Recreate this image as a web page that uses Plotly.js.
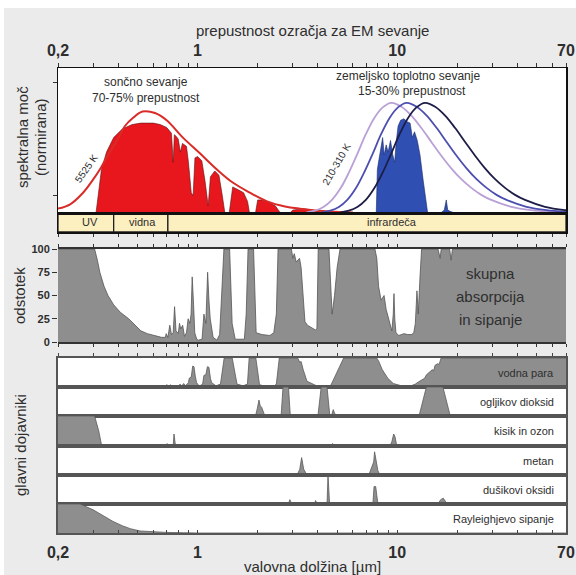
<!DOCTYPE html>
<html><head><meta charset="utf-8">
<script src="https://cdn.plot.ly/plotly-3.0.1.min.js"></script>
<style>html,body{margin:0;padding:0;background:#fff}#chart{width:576px;height:575px}</style>
</head><body><div id="chart"></div>
<script>
// ---------- axis ticks ----------
const tickVals = [0.2,0.3,0.4,0.5,0.6,0.7,0.8,0.9,1,2,3,4,5,6,7,8,9,10,20,30,40,50,60,70];
const tickText = ['0,2','','','','','','','','1','','','','','','','','','10','','','','','','70'];
const absTicks = [0,25,50,75,100];

// ---------- spectral bands ----------
const bandEdges = [0.2,0.38,0.71,70];
const bandLabels = ['UV','vidna','infrardeča'];

// ---------- top panel: spectral power (normalised) ----------
const sunEnvWl  = [0.2,0.23,0.267,0.296,0.324,0.356,0.395,0.433,0.474,0.53,0.612,0.70,0.845,1.03,1.25,1.5,1.83,2.23,2.74,3.26,4.6,6];
const sunEnvVal = [0.03,0.06,0.14,0.22,0.30,0.40,0.50,0.60,0.655,0.70,0.69,0.64,0.52,0.41,0.30,0.21,0.14,0.08,0.045,0.03,0.01,0.003];

const sunFillWl  = [0.31,0.32,0.33,0.35,0.38,0.42,0.47,0.52,0.60,0.65,0.68,0.70,0.72,0.74,0.755,0.765,0.78,0.80,0.82,0.84,0.88,0.90,0.93,0.95,0.97,1.0,1.05,1.09,1.13,1.16,1.22,1.28,1.33,1.37,1.44,1.50,1.6,1.7,1.78,1.82,1.95,2.0,2.1,2.3,2.45,2.55,2.6,2.9,3.0,3.4,3.8,4.1,4.2];
const sunFillVal = [0,0.15,0.30,0.42,0.52,0.58,0.61,0.62,0.62,0.61,0.60,0.59,0.57,0.55,0.35,0.54,0.53,0.51,0.42,0.48,0.46,0.35,0.14,0.12,0.38,0.39,0.36,0.22,0.05,0.25,0.29,0.26,0.12,0,0,0.18,0.16,0.14,0.08,0,0,0.09,0.09,0.07,0.05,0.02,0,0,0.02,0.03,0.02,0.01,0];

const earthFillWl  = [7.85,7.95,8.1,8.3,8.45,8.6,8.8,9.0,9.25,9.5,9.7,9.9,10.1,10.4,10.8,11.2,11.6,11.9,12.2,12.6,13.0,13.5,14.0,14.2,16.5,17.2,17.6,17.9,18.5,19.5];
const earthFillVal = [0,0.30,0.37,0.47,0.52,0.40,0.47,0.42,0.50,0.40,0.35,0.50,0.60,0.64,0.65,0.63,0.62,0.52,0.56,0.50,0.40,0.22,0.04,0,0,0.02,0.09,0.02,0.01,0];

const earth310Wl = [3.51,3.88,4.27,4.71,5.20,5.73,6.32,6.97,7.69,8.48,9.35,10.49,11.77,13.21,14.82,16.62,18.65,20.93,23.49,26.35,29.56,37.22,46.86,59.0,74.3];
const earth260Wl = [4.19,4.62,5.10,5.62,6.20,6.83,7.54,8.31,9.17,10.11,11.15,12.51,14.04,15.76,17.67,19.82,22.24,24.96,28.01,31.42,35.26,44.39,55.88,70.36,88.6];
const earth210Wl = [5.19,5.72,6.31,6.96,7.67,8.46,9.33,10.29,11.35,12.51,13.8,15.48,17.37,19.50,21.87,24.54,27.53,30.90,34.67,38.89,43.64,54.94,69.17,87.1,109.6];
const earthCurveVal = [0.005,0.016,0.041,0.09,0.17,0.28,0.41,0.545,0.657,0.73,0.76,0.733,0.672,0.586,0.49,0.395,0.308,0.233,0.173,0.125,0.09,0.043,0.02,0.009,0.004];

// ---------- total absorption and scattering (%) ----------
const absWl  = [0.2,0.305,0.315,0.324,0.34,0.356,0.38,0.41,0.452,0.49,0.52,0.56,0.61,0.66,0.69,0.696,0.71,0.726,0.74,0.755,0.767,0.78,0.80,0.812,0.824,0.842,0.86,0.88,0.897,0.915,0.928,0.94,0.955,0.968,0.99,1.01,1.053,1.076,1.10,1.123,1.14,1.157,1.196,1.25,1.29,1.33,1.355,1.447,1.47,1.49,1.543,1.715,1.752,1.79,1.907,1.94,1.965,2.1,2.3,2.408,2.48,2.53,2.95,3.0,3.05,3.12,3.24,3.3,3.40,3.45,3.55,3.7,3.89,3.96,4.02,4.55,4.62,4.72,4.85,5.0,5.17,7.73,7.9,8.06,8.3,8.59,8.8,9.16,9.4,9.55,9.63,9.72,9.85,10.18,10.8,11.3,11.81,12.1,12.32,12.55,12.74,13.0,13.24,16.0,16.4,16.6,18.3,18.6,18.9,70];
const absVal = [100,100,88,75,60,50,40,32,25,17,12,9,7,5,5,9,5,18,8,10,38,12,9,20,14,18,6,10,25,20,30,70,40,10,3,2,3,30,20,75,45,25,5,2,8,60,100,100,60,20,3,3,30,100,100,40,10,8,7,10,30,100,100,90,95,86,90,80,35,22,18,16,13,14,100,100,70,30,50,80,100,100,90,60,45,50,35,20,12,30,52,25,10,7,9,8,8,10,20,55,30,70,100,100,90,100,100,88,100,100];

// ---------- main absorbers (relative) ----------
const h2oWl  = [0.2,0.69,0.70,0.72,0.735,0.75,0.80,0.817,0.83,0.852,0.87,0.9,0.908,0.93,0.945,0.96,0.975,0.989,1.02,1.06,1.076,1.1,1.12,1.14,1.16,1.176,1.237,1.302,1.359,1.491,1.576,1.69,1.777,1.813,1.958,2.043,2.166,2.408,2.48,2.566,3.172,3.25,3.3,3.38,3.53,3.68,3.92,4.1,4.55,4.65,5.0,5.39,7.89,8.06,8.41,8.97,9.55,10.18,10.4,11.81,12.32,12.8,13.34,13.7,14.0,14.52,15.0,15.2,15.47,15.9,16.2,16.58,70];
const h2oVal = [0,0,0.08,0.02,0.08,0.01,0.02,0.1,0.03,0.12,0.04,0.15,0.3,0.35,0.72,0.7,0.35,0.15,0.03,0.1,0.4,0.42,0.7,0.68,0.3,0.15,0.04,0.1,1,1,0.1,0.04,0.1,1,1,0.08,0.03,0.03,0.1,1,1,0.85,0.88,0.6,0.2,0.15,0.05,0.03,0.03,0.06,0.5,1,1,0.9,0.6,0.3,0.12,0.06,0.05,0.05,0.1,0.18,0.25,0.3,0.42,0.5,0.6,0.55,0.75,0.8,0.78,1,1];
const co2Wl  = [0.2,1.38,1.417,1.45,1.58,1.609,1.64,1.95,1.99,2.03,2.06,2.094,2.153,2.2,2.62,2.678,2.853,2.914,4.005,4.16,4.45,4.59,4.7,4.78,4.85,4.95,5.28,5.4,9.2,9.35,9.5,10.3,10.39,10.5,12.85,13.99,16.93,18.43,70];
const co2Val = [0,0,0.04,0,0,0.04,0,0,0.25,0.55,0.35,0.3,0.08,0,0,1,1,0,0,1,1,0.05,0.05,0.22,0.1,0.02,0.04,0,0,0.04,0,0,0.04,0,0,1,1,0,0];
const o3Wl  = [0.2,0.305,0.32,0.33,0.34,0.69,0.704,0.72,0.755,0.762,0.772,0.78,1.25,1.27,1.29,4.6,4.75,4.85,9.2,9.4,9.6,9.75,9.9,10.1,13.5,14.5,15.5,16.5,70];
const o3Val = [1,1,0.5,0.05,0,0,0.08,0,0,0.4,0.1,0,0,0.05,0,0,0.08,0,0,0.15,0.4,0.3,0.08,0,0,0.05,0.03,0,0];
const ch4Wl  = [0.2,2.25,2.36,2.45,3.15,3.25,3.32,3.4,3.5,3.6,7.2,7.45,7.62,7.7,7.85,8.0,8.2,70];
const ch4Val = [0,0,0.06,0,0,0.2,0.6,0.2,0.05,0,0,0.3,0.45,0.8,0.4,0.15,0,0];
const n2oWl  = [0.2,2.85,2.9,2.96,3.85,3.9,3.97,4.45,4.5,4.58,4.65,7.55,7.65,7.8,7.9,8.0,16.0,16.5,17,17.6,18,70];
const n2oVal = [0,0,0.15,0,0,0.12,0,0,1.0,0.05,0,0,0.6,0.6,0.3,0,0,0.15,0.2,0.05,0,0];
const rayWl  = [0.2,0.258,0.3,0.34,0.377,0.42,0.46,0.515,0.6,0.7,0.85,1.0,70];
const rayVal = [1,1,0.8,0.58,0.40,0.25,0.15,0.07,0.035,0.02,0.01,0,0];

const absorberLabels = ['vodna para','ogljikov dioksid','kisik in ozon','metan','dušikovi oksidi','Rayleighjevo sipanje'];

// ---------- layout helpers ----------
const FONT = 'Liberation Sans, Arial, Helvetica, sans-serif';
const TXT = '#2e2e2e';
const W = 576, H = 575, L = 58, R = 10, T = 68, B = 42;
const pw = W - L - R, ph = H - T - B;
const px = v => (v - L) / pw;
const py = v => (H - B - v) / ph;
const logR = [Math.log10(0.2), Math.log10(70)];

const panelTopPx = [358,387,416,446,475,504];
const panelBotPx = [387,416,446,475,504,533];

function xa(anchor, extra) {
  return Object.assign({type:'log', range:logR, domain:[0,1], anchor:anchor,
    tickvals:tickVals, ticktext:tickText, showgrid:false, zeroline:false,
    showticklabels:false, ticks:'', fixedrange:true, automargin:false}, extra);
}
function ya(anchor, dom, extra) {
  return Object.assign({domain:dom, anchor:anchor, range:[0,1], showgrid:false,
    zeroline:false, showticklabels:false, ticks:'', fixedrange:true, automargin:false}, extra);
}

const traces = [];
// top panel
traces.push({x:sunFillWl, y:sunFillVal, xaxis:'x', yaxis:'y', mode:'lines', fill:'tozeroy',
  fillcolor:'#e8161d', line:{color:'#5a1414', width:0.6}, hoverinfo:'skip'});
traces.push({x:sunEnvWl, y:sunEnvVal, xaxis:'x', yaxis:'y', mode:'lines', line:{color:'#d92b27', width:2, shape:'spline'}, hoverinfo:'skip'});
traces.push({x:earthFillWl, y:earthFillVal, xaxis:'x', yaxis:'y', mode:'lines', fill:'tozeroy',
  fillcolor:'#2f4fb2', line:{color:'#1b2a6a', width:0.6}, hoverinfo:'skip'});
traces.push({x:earth310Wl, y:earthCurveVal, xaxis:'x', yaxis:'y', mode:'lines', line:{color:'#b9a0d6', width:1.8, shape:'spline'}, hoverinfo:'skip'});
traces.push({x:earth260Wl, y:earthCurveVal, xaxis:'x', yaxis:'y', mode:'lines', line:{color:'#4d4fb0', width:1.8, shape:'spline'}, hoverinfo:'skip'});
traces.push({x:earth210Wl, y:earthCurveVal, xaxis:'x', yaxis:'y', mode:'lines', line:{color:'#1d1d48', width:1.8, shape:'spline'}, hoverinfo:'skip'});
// band (empty subplot)
traces.push({x:[1], y:[0.5], xaxis:'x2', yaxis:'y2', mode:'markers', marker:{opacity:0}, hoverinfo:'skip'});
// absorption
traces.push({x:absWl, y:absVal, xaxis:'x3', yaxis:'y3', mode:'lines', fill:'tozeroy',
  fillcolor:'#8e8e8e', line:{color:'#555', width:0.8}, hoverinfo:'skip'});
// absorbers
const absorberSeries = [[h2oWl,h2oVal],[co2Wl,co2Val],[o3Wl,o3Val],[ch4Wl,ch4Val],[n2oWl,n2oVal],[rayWl,rayVal]];
absorberSeries.forEach((s,i) => {
  traces.push({x:s[0], y:s[1], xaxis:'x'+(i+4), yaxis:'y'+(i+4), mode:'lines', fill:'tozeroy',
    fillcolor:'#8e8e8e', line:{color:'#5a5a5a', width:0.8}, hoverinfo:'skip'});
});

const layout = {
  width:W, height:H, autosize:false,
  margin:{l:L, r:R, t:T, b:B, pad:0},
  paper_bgcolor:'#ebebeb', plot_bgcolor:'#ffffff',
  showlegend:false,
  font:{family:FONT, color:TXT, size:12},
  xaxis: xa('y', {side:'top', showline:true, mirror:true, linecolor:'#111', linewidth:1.5,
    ticks:'outside', ticklen:4, tickcolor:'#333', showticklabels:true,
    tickfont:{size:16, color:TXT, weight:'bold'}}),
  yaxis: ya('x', [py(213), 1], {showline:true, mirror:true, linecolor:'#111', linewidth:1.5,
    tickvals:[0.12,0.9], ticks:'outside', ticklen:4, tickcolor:'#333'}),
  xaxis2: xa('y2', {showline:true, mirror:true, linecolor:'#111', linewidth:1.5,
    ticks:'outside', ticklen:3, tickcolor:'#333'}),
  yaxis2: ya('x2', [py(232), py(213)], {showline:true, mirror:true, linecolor:'#111', linewidth:1.5}),
  xaxis3: xa('y3', {showline:true, mirror:'allticks', linecolor:'#333', linewidth:2,
    ticks:'outside', ticklen:3, tickcolor:'#333'}),
  yaxis3: ya('x3', [py(342), py(249)], {range:[0,100], tickvals:absTicks, ticks:'outside', ticklen:5,
    tickcolor:'#333', tickwidth:1, showticklabels:true, tickfont:{size:11, color:TXT, weight:'bold'}}),
  shapes:[
    {type:'rect', xref:'paper', yref:'paper', x0:-0.3, x1:1.3, y0:py(8), y1:py(-20), fillcolor:'#ffffff', line:{width:0}, layer:'below'},
    {type:'rect', xref:'paper', yref:'paper', x0:px(-20), x1:px(4), y0:py(600), y1:py(-20), fillcolor:'#ffffff', line:{width:0}, layer:'below'}
  ],
  annotations:[]
};

for (let i = 0; i < 6; i++) {
  const n = i + 4;
  const xo = {showline:true, mirror:true, linecolor:'#555', linewidth:2};
  if (i === 0) Object.assign(xo, {side:'top', ticks:'outside', ticklen:3, tickcolor:'#444'});
  if (i === 5) Object.assign(xo, {ticks:'inside', ticklen:3, tickcolor:'#444', showticklabels:true,
    tickfont:{size:16, color:TXT, weight:'bold'}, ticklabelstandoff:4});
  layout['xaxis'+n] = xa('y'+n, xo);
  layout['yaxis'+n] = ya('x'+n, [py(panelBotPx[i]), py(panelTopPx[i])], {showline:true, mirror:true, linecolor:'#555', linewidth:2});
  layout.annotations.push({xref:'paper', yref:'paper', x:px(556), y:py((panelTopPx[i]+panelBotPx[i])/2),
    xanchor:'right', yanchor:'middle', text:absorberLabels[i], showarrow:false, font:{size:11, color:TXT}});
}

// band fills and labels
const bandLabelWl = [0.289, 0.527, 9.41];
bandLabels.forEach((lab,i) => {
  layout.shapes.push({type:'rect', xref:'x2', yref:'y2 domain', x0:bandEdges[i], x1:bandEdges[i+1], y0:0, y1:1,
    fillcolor:'#fcefc0', line:{color:'#222', width:1.3}, layer:'below'});
  layout.annotations.push({xref:'x2', yref:'y2 domain', x:Math.log10(bandLabelWl[i]), y:0.5, text:lab,
    showarrow:false, font:{size:11, color:TXT}, xanchor:'center', yanchor:'middle'});
});

function note(text, x, y, size, extra) {
  layout.annotations.push(Object.assign({xref:'paper', yref:'paper', x:px(x), y:py(y), text:text,
    showarrow:false, xanchor:'center', yanchor:'middle', font:{size:size, color:TXT}}, extra||{}));
}
note('prepustnost ozračja za EM sevanje', 312, 31, 15);
note('valovna dolžina [µm]', 312, 566, 15);
note('spektralna moč', 22, 137, 15, {textangle:-90});
note('(normirana)', 40, 137, 15, {textangle:-90});
note('odstotek', 19, 296, 15, {textangle:-90});
note('glavni dojavniki', 20, 445, 15, {textangle:-90});
note('sončno sevanje', 146, 82, 12);
note('70-75% prepustnost', 146, 98, 12);
note('zemeljsko toplotno sevanje', 408, 76, 12);
note('15-30% prepustnost', 412, 91, 12);
note('5525 K', 86, 168, 10, {textangle:-55});
note('210-310 K', 336, 164, 10, {textangle:-60});
note('skupna', 490, 273, 15);
note('absorpcija', 490, 296, 15);
note('in sipanje', 490, 319, 15);

Plotly.newPlot('chart', traces, layout, {staticPlot:true, displayModeBar:false});
</script>
</body></html>
